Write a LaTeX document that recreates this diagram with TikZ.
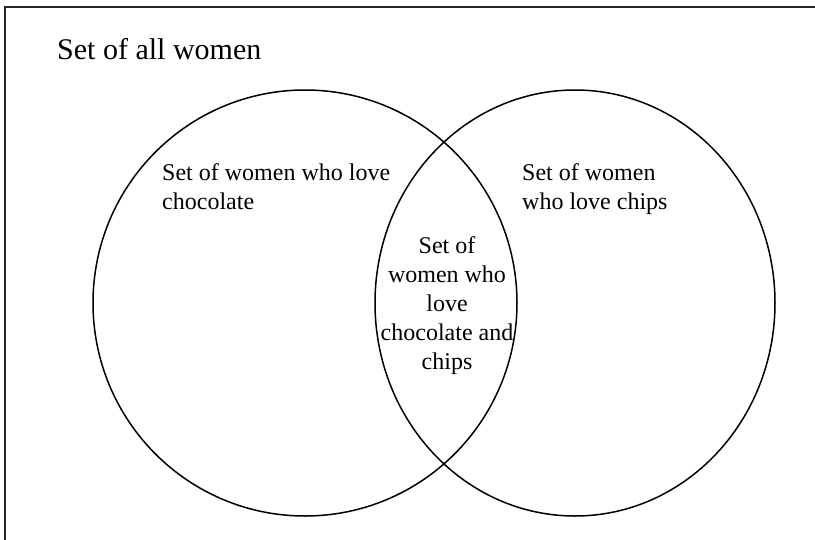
\documentclass[tikz,border=0pt]{standalone}
\usepackage{fontspec}
\setmainfont{Liberation Serif}
\usepackage{tikz}
\usetikzlibrary{positioning}

\begin{document}
\begin{tikzpicture}[
        x=1pt, y=-1pt,
        every node/.style={inner sep=0pt},
        frameline/.style={draw=black!85, line width=1.6pt},
        setline/.style={draw=black, line width=1.5pt},
        setlabel/.style={font=\fontsize{24}{29}\selectfont, align=left},
        title/.style={font=\fontsize{30}{36}\selectfont}
    ]
    \useasboundingbox (0,0) rectangle (815,539);
    \clip (0,0) rectangle (815,539);
    % universe (cropped at the right and bottom)
    \coordinate (ubl) at (5,580);
    \coordinate (utr) at (850,7);
    \draw[frameline] (ubl) |- (utr);
    \node[title, anchor=base west] (all) at (57,59) {Set of all women};
    % the two sets
    \draw[setline] (305,303) ellipse [x radius=212pt, y radius=213pt];
    \draw[setline] (575,303) ellipse [x radius=200pt, y radius=213pt];
    \node[setlabel, anchor=north west] (choc) at (162,163) {Set of women who love\\chocolate};
    \node[setlabel, anchor=north west] (chips) at (522,163) {Set of women\\who love chips};
    \node[setlabel, align=center, anchor=north] (both) at (447,236) {Set of\\women who\\love\\chocolate and\\chips};
\end{tikzpicture}
\end{document}
